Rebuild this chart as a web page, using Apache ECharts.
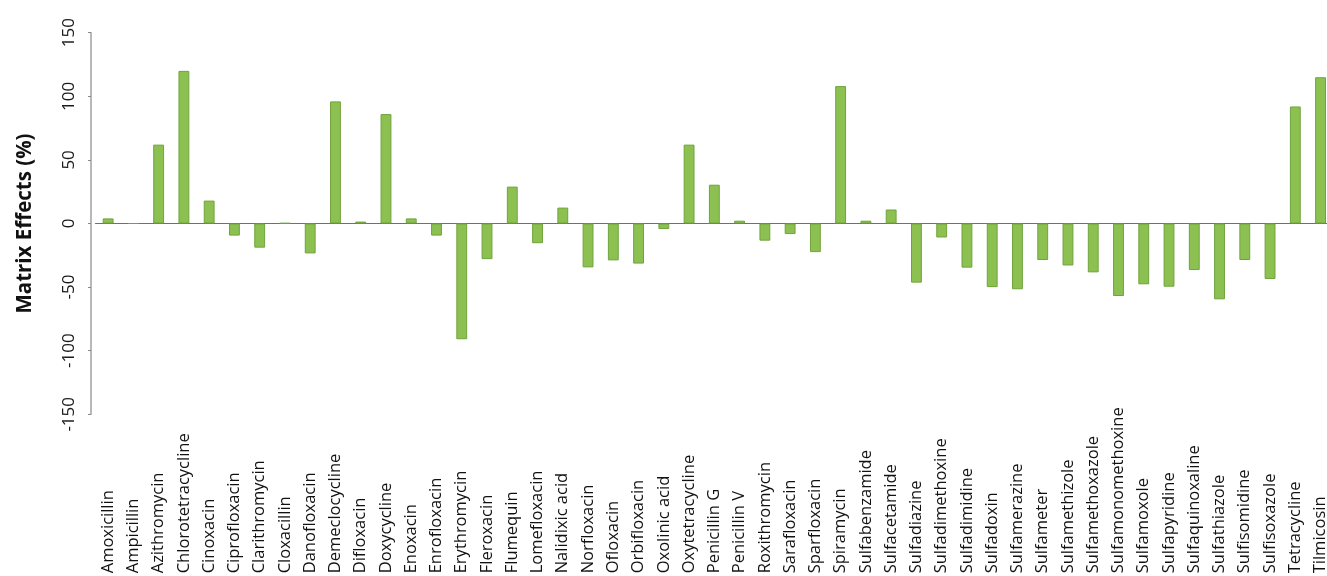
<!DOCTYPE html>
<html>
<head>
<meta charset="utf-8">
<title>Matrix Effects</title>
<script src="https://cdn.jsdelivr.net/npm/echarts@6/dist/echarts.min.js"></script>
<style>
  html, body { margin: 0; padding: 0; background: #ffffff; }
  #chart { width: 1327px; height: 576px; }
</style>
</head>
<body>
<div id="chart"></div>
<script>
// Compounds on the category axis
const compounds = [
  'Amoxicillin', 'Ampicillin', 'Azithromycin', 'Chlorotetracycline', 'Cinoxacin',
  'Ciprofloxacin', 'Clarithromycin', 'Cloxacillin', 'Danofloxacin', 'Demeclocycline',
  'Difloxacin', 'Doxycycline', 'Enoxacin', 'Enrofloxacin', 'Erythromycin',
  'Fleroxacin', 'Flumequin', 'Lomefloxacin', 'Nalidixic acid', 'Norfloxacin',
  'Ofloxacin', 'Orbifloxacin', 'Oxolinic acid', 'Oxytetracycline', 'Penicillin G',
  'Penicillin V', 'Roxithromycin', 'Sarafloxacin', 'Sparfloxacin', 'Spiramycin',
  'Sulfabenzamide', 'Sulfacetamide', 'Sulfadiazine', 'Sulfadimethoxine', 'Sulfadimidine',
  'Sulfadoxin', 'Sulfamerazine', 'Sulfameter', 'Sulfamethizole', 'Sulfamethoxazole',
  'Sulfamonomethoxine', 'Sulfamoxole', 'Sulfapyridine', 'Sulfaquinoxaline', 'Sulfathiazole',
  'Sulfisomidine', 'Sulfisoxazole', 'Tetracycline', 'Tilmicosin'
];

// Matrix effect per compound (%)
const matrixEffects = [
  4, 0, 62, 120, 18,
  -9.5, -19, 0.3, -23.5, 96,
  1.5, 86, 4, -9.5, -91,
  -28, 29, -15.5, 12.5, -34.5,
  -29, -31.5, -4.3, 62, 30.5,
  2.2, -13.5, -8.3, -22.5, 108,
  2.2, 11, -46.5, -11, -34.7,
  -50, -51.7, -28.7, -33, -38.4,
  -57, -47.8, -49.7, -36.6, -59.6,
  -28.7, -43.6, 92, 115
];

// Value axis ticks
const yMin = -150;
const yMax = 150;
const yStep = 50;

const chart = echarts.init(document.getElementById('chart'), null, { renderer: 'canvas' });

chart.setOption({
  animation: false,
  backgroundColor: '#ffffff',
  grid: {
    left: 95.5,
    top: 32.7,
    width: 1237.7,
    height: 381.6,
    containLabel: false,
    outerBoundsMode: 'none'
  },
  xAxis: {
    type: 'category',
    data: compounds,
    boundaryGap: true,
    axisLine: { onZero: true, lineStyle: { color: '#707070', width: 1.2 } },
    axisTick: { show: false },
    axisLabel: {
      interval: 0,
      rotate: 90,
      align: 'left',
      margin: 159,
      fontFamily: 'Open Sans',
      fontSize: 16.5,
      color: '#111111'
    },
    splitLine: { show: false }
  },
  yAxis: {
    type: 'value',
    min: yMin,
    max: yMax,
    interval: yStep,
    offset: 4.5,
    name: 'Matrix Effects (%)',
    nameLocation: 'middle',
    nameRotate: 90,
    nameGap: 55,
    nameTextStyle: {
      fontFamily: 'Open Sans',
      fontWeight: 'bold',
      fontSize: 20.5,
      color: '#111111'
    },
    axisLine: { show: true, lineStyle: { color: '#a0a0a0', width: 1.5 } },
    axisTick: { show: true, length: 3, lineStyle: { color: '#888888', width: 1 } },
    axisLabel: {
      rotate: 90,
      margin: 13,
      fontFamily: 'Open Sans',
      fontSize: 17,
      color: '#1a1a1a'
    },
    splitLine: { show: false }
  },
  series: [{
    type: 'bar',
    data: matrixEffects,
    barWidth: '43%',
    itemStyle: {
      color: '#8cc152',
      borderColor: '#70a33c',
      borderWidth: 1
    }
  }]
});
</script>
</body>
</html>
